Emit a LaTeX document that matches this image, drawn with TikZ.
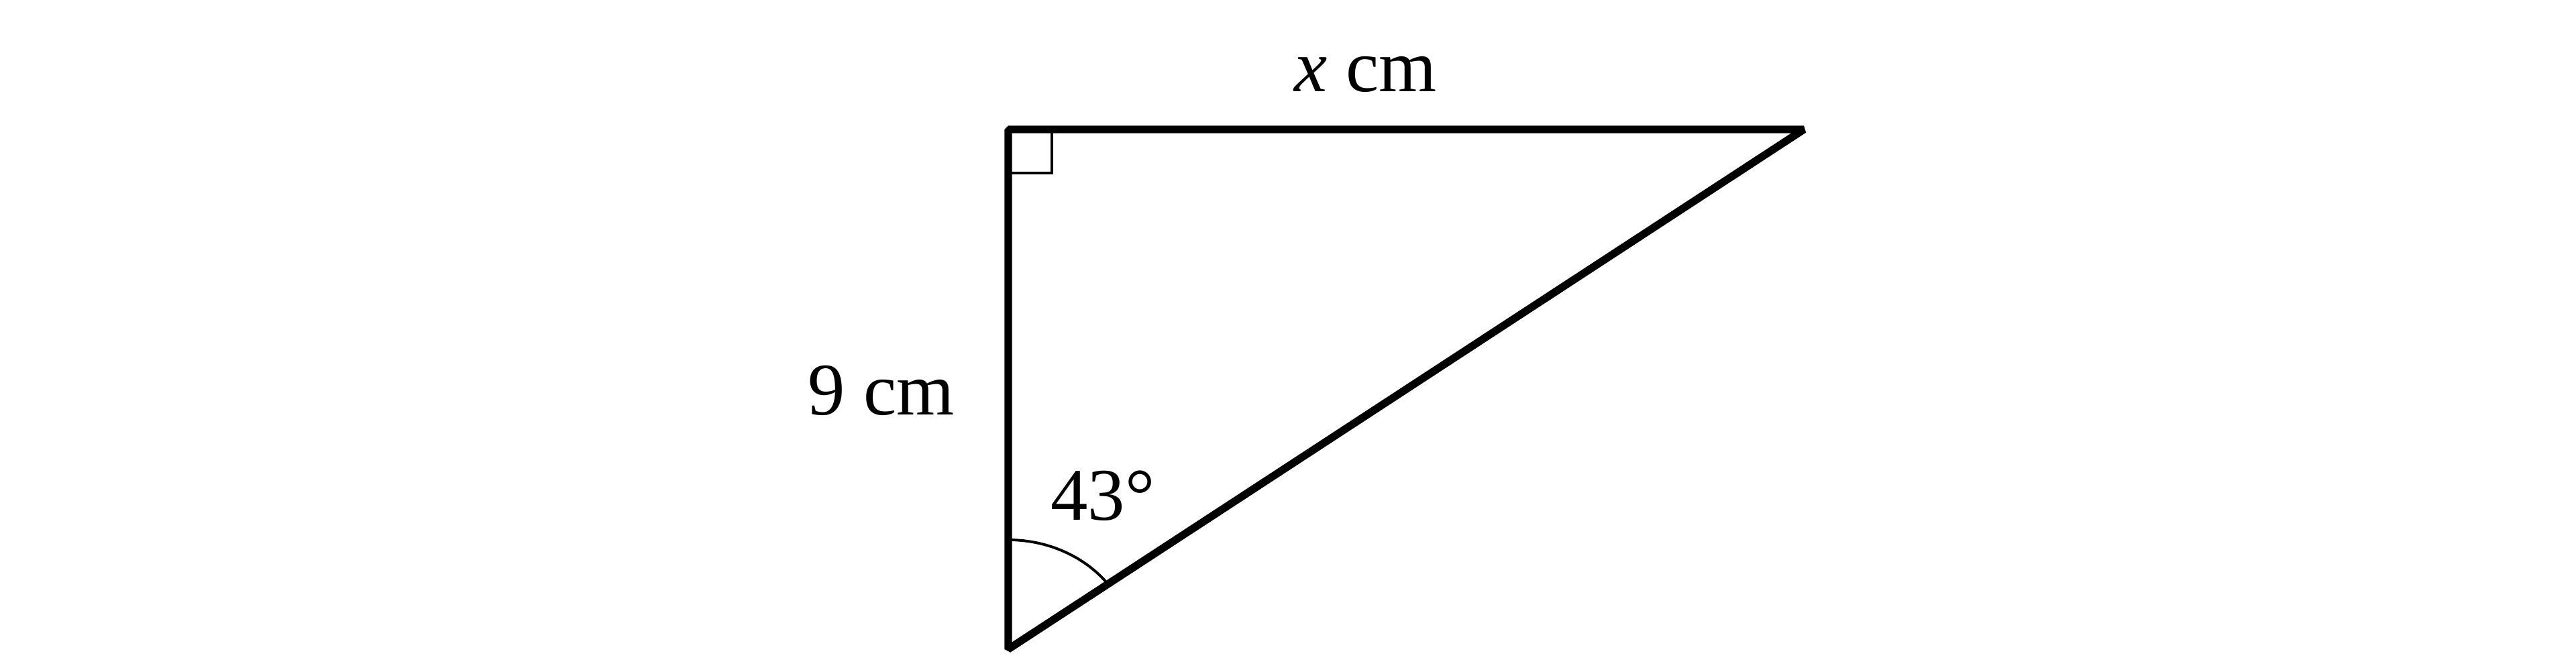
\documentclass[tikz,border=0pt]{standalone}
\usepackage{fontspec}
\setmainfont{Liberation Serif}
\usepackage{xcolor}

\begin{document}
\begin{tikzpicture}[leg/.style={line width=1.3pt,line join=bevel},
            thinline/.style={line width=0.45pt},
            lbl/.style={inner sep=0pt,anchor=base,font=\fontsize{12.6}{15}\selectfont}]
            \useasboundingbox (-6.012,-0.136) rectangle (9.348,3.872);
            \coordinate (B) at (0,0);
            \coordinate (A) at (0,3.1);
            \coordinate (C) at (4.744,3.1);
            \draw[leg] (A) -- (C) -- (B) -- cycle;
            \draw[thinline] (0,2.84) -- (0.26,2.84) -- (0.26,3.1);
            \draw[thinline] (0,0.652)
            arc [start angle=90, end angle=36.56, x radius=0.74cm, y radius=0.652cm];
            \node[lbl] (top label) at (2.132,3.324) {\textit{x} cm};
            \node[lbl] (left label) at (-0.756,1.396) {9 cm};
            \node[lbl] (angle label) at (0.564,0.768) {43°};
        \end{tikzpicture}
\end{document}
